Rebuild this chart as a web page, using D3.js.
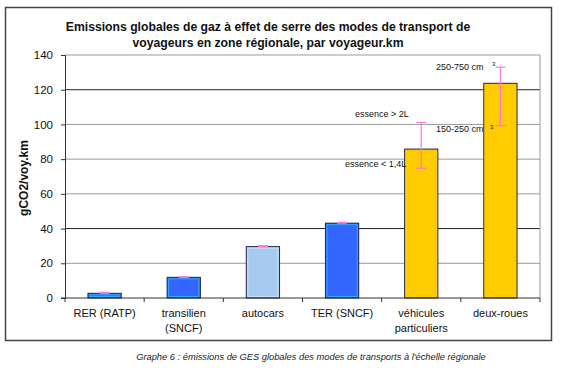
<!DOCTYPE html>
<html><head><meta charset="utf-8">
<script src="https://cdn.jsdelivr.net/npm/d3@7"></script>
<style>body{margin:0;background:#fff;} svg{font-family:"Liberation Sans",Arial,sans-serif;}</style>
</head><body>
<svg id="c" width="569" height="375"></svg>
<script>
const categories = ["RER (RATP)", "transilien\n(SNCF)", "autocars", "TER (SNCF)", "véhicules\nparticuliers", "deux-roues"];
const values = [2.7, 11.9, 29.6, 43.1, 85.8, 123.7];
const errLow = [2.7, 11.9, 29.6, 43.1, 74.8, 99.3];
const errHigh = [3.3, 12.3, 30.2, 43.5, 101.2, 133];
const colors = ["#3366ff", "#3366ff", "#a6caf0", "#3366ff", "#ffcc00", "#ffcc00"];
const yTicks = [0, 20, 40, 60, 80, 100, 120, 140];
const titleLines = ["Emissions globales de gaz à effet de serre des modes de transport de", "voyageurs en zone régionale, par voyageur.km"];
const yLabel = "gCO2/voy.km";
const caption = "Graphe 6 : émissions de GES globales des modes de transports à l'échelle régionale";

const svg = d3.select("#c");
const L = 65, R = 540, T = 55, B = 298;
const x = d3.scaleBand().domain(categories).range([L, R]).paddingInner(0.58).paddingOuter(0.29);
const xb = d3.scaleBand().domain(categories).range([L, R]);
const y = d3.scaleLinear().domain([0, 140]).range([B, T]);

// outer border
svg.append("rect").attr("x", 5.5).attr("y", 7.5).attr("width", 546).attr("height", 333)
  .attr("fill", "none").attr("stroke", "#444").attr("stroke-width", 1.5);

// title
svg.append("text").attr("x", 268).attr("y", 31).attr("text-anchor", "middle")
  .attr("font-size", 12.2).attr("font-weight", "bold").attr("fill", "#111")
  .selectAll("tspan").data(titleLines).join("tspan")
  .attr("x", 268).attr("dy", (d, i) => i ? 16 : 0).text(d => d);

// grid
svg.append("g").selectAll("line").data(yTicks.filter(d => d > 0)).join("line")
  .attr("x1", L).attr("x2", R).attr("y1", d => y(d)).attr("y2", d => y(d))
  .attr("stroke", d => (d === 40 || d === 120) ? "#222" : "#9a9a9a").attr("stroke-width", 1);
svg.append("line").attr("x1", R).attr("x2", R).attr("y1", T).attr("y2", B).attr("stroke", "#9a9a9a");

// bars
const g = svg.append("g");
g.selectAll("rect.bar").data(categories).join("rect").attr("class", "bar")
  .attr("x", d => x(d)).attr("width", x.bandwidth())
  .attr("y", (d, i) => y(values[i])).attr("height", (d, i) => y(0) - y(values[i]))
  .attr("fill", (d, i) => colors[i]).attr("stroke", "#222244").attr("stroke-width", 1);
g.selectAll("rect.inner").data(categories).join("rect").attr("class", "inner")
  .attr("x", d => x(d) + 1.5).attr("width", x.bandwidth() - 3)
  .attr("y", (d, i) => y(values[i]) + 1.5).attr("height", (d, i) => Math.max(0, y(0) - y(values[i]) - 3))
  .attr("fill", "none")
  .attr("stroke", (d, i) => colors[i] === "#3366ff" ? "#33aaff" : (colors[i] === "#a6caf0" ? "#c8e0f8" : "#ffcc00"))
  .attr("stroke-width", 1);

// error bars
const eb = svg.append("g").attr("stroke", "#ff77dd").attr("stroke-width", 1.2);
categories.forEach((c, i) => {
  const cx = x(c) + x.bandwidth() / 2;
  eb.append("line").attr("x1", cx).attr("x2", cx).attr("y1", y(errLow[i])).attr("y2", y(errHigh[i]));
  [errLow[i], errHigh[i]].forEach(v => eb.append("line").attr("x1", cx - 5).attr("x2", cx + 5).attr("y1", y(v)).attr("y2", y(v)));
});

// y axis
const ya = svg.append("g").attr("transform", `translate(${L},0)`)
  .call(d3.axisLeft(y).tickValues(yTicks).tickSize(4).tickPadding(8));
ya.select(".domain").attr("stroke", "#333");
ya.selectAll(".tick line").attr("stroke", "#333");
ya.selectAll("text").attr("font-size", 11.5).attr("fill", "#111").attr("font-family", "Liberation Sans, Arial");

// x axis
svg.append("line").attr("x1", L - 4).attr("x2", R).attr("y1", B).attr("y2", B).attr("stroke", "#333");
svg.append("g").selectAll("line").data(categories.concat(["__end"])).join("line")
  .attr("x1", (d, i) => L + i * xb.bandwidth()).attr("x2", (d, i) => L + i * xb.bandwidth())
  .attr("y1", B).attr("y2", B + 4).attr("stroke", "#333");
const xl = svg.append("g");
categories.forEach(c => {
  const t = xl.append("text").attr("x", xb(c) + xb.bandwidth() / 2).attr("y", 317)
    .attr("text-anchor", "middle").attr("font-size", 11).attr("fill", "#111");
  c.split("\n").forEach((s, k) => t.append("tspan").attr("x", xb(c) + xb.bandwidth() / 2).attr("dy", k ? 15 : 0).text(s));
});

// y label
svg.append("text").attr("transform", "translate(28,178) rotate(-90)").attr("text-anchor", "middle")
  .attr("font-size", 12).attr("font-weight", "bold").attr("fill", "#111").text(yLabel);

// annotations
const ann = svg.append("g").attr("font-size", 9).attr("fill", "#111");
ann.append("text").attr("x", 436).attr("y", 70).text("250-750 cm");
ann.append("text").attr("x", 492).attr("y", 66).attr("font-size", 6).text("3");
ann.append("text").attr("x", 436).attr("y", 132).text("150-250 cm");
ann.append("text").attr("x", 490).attr("y", 129).attr("font-size", 6).text("3");
ann.append("text").attr("x", 355).attr("y", 117).text("essence > 2L");
ann.append("text").attr("x", 345).attr("y", 167).text("essence < 1,4L");

// caption
svg.append("text").attr("x", 311).attr("y", 360).attr("text-anchor", "middle")
  .attr("font-size", 9.3).attr("font-style", "italic").attr("fill", "#222").text(caption);
</script>
</body></html>
